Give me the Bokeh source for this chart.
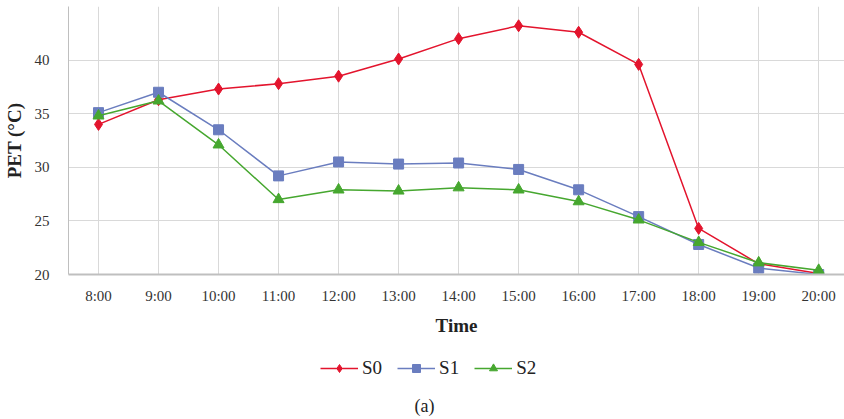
from bokeh.plotting import figure
from bokeh.layouts import column
from bokeh.models import FixedTicker, Legend, LegendItem, Label, Range1d
from bokeh.embed import file_html
from bokeh.resources import INLINE

times = ["8:00", "9:00", "10:00", "11:00", "12:00", "13:00", "14:00",
         "15:00", "16:00", "17:00", "18:00", "19:00", "20:00"]
s0 = [34.0, 36.3, 37.3, 37.8, 38.5, 40.1, 42.0, 43.2, 42.6, 39.6, 24.3, 21.0, 20.1]
s1 = [35.1, 37.0, 33.5, 29.2, 30.5, 30.3, 30.4, 29.8, 27.9, 25.4, 22.8, 20.6, 20.0]
s2 = [34.8, 36.2, 32.1, 27.0, 27.9, 27.8, 28.1, 27.9, 26.8, 25.1, 23.0, 21.1, 20.4]
series_names = ["S0", "S1", "S2"]
y_ticks = [20, 25, 30, 35, 40, 45]

idx = list(range(len(times)))
FONT = "Liberation Serif"
COLORS = ["#e3142d", "#6a7dbf", "#46a72f"]
MARKERS = [("diamond", 12), ("square", 10), ("triangle", 11)]
GRID = "#d9d9d9"

p = figure(width=844, height=340, output_backend="svg", toolbar_location=None,
           x_range=Range1d(-0.5, 12.43), y_range=Range1d(20, 45),
           min_border_left=68, min_border_right=0, min_border_top=6,
           min_border_bottom=66, outline_line_color=None,
           background_fill_color="white", border_fill_color="white")

for ys, col, (mk, sz) in zip([s0, s1, s2], COLORS, MARKERS):
    p.line(idx, ys, color=col, line_width=1.5)
    p.scatter(idx, ys, marker=mk, size=sz, color=col)

p.xaxis.ticker = FixedTicker(ticks=idx)
p.xaxis.major_label_overrides = {i: t for i, t in zip(idx, times)}
p.yaxis.ticker = FixedTicker(ticks=y_ticks)
p.yaxis.major_label_overrides = {45: ""}

for ax in (p.xaxis[0], p.yaxis[0]):
    ax.major_tick_line_color = None
    ax.minor_tick_line_color = None
    ax.major_label_text_font = FONT
    ax.major_label_text_font_size = "15px"
    ax.major_label_text_color = "#333333"
    ax.axis_label_text_font = FONT
    ax.axis_label_text_font_style = "bold"
    ax.axis_label_text_font_size = "19px"
    ax.axis_label_text_color = "#222222"
    ax.axis_line_color = "#bfbfbf"

p.xaxis.axis_label = "Time"
p.yaxis.axis_label = "PET (°C)"
p.xaxis.axis_line_width = 2
p.xaxis.major_label_standoff = 7
p.xaxis.axis_label_standoff = 8
p.yaxis.major_label_standoff = 13
p.yaxis.axis_label_standoff = 7

p.xgrid.grid_line_color = GRID
p.ygrid.grid_line_color = GRID

# lower strip holding the legend and the caption (its frame is aligned with p's)
p2 = figure(width=844, height=79, output_backend="svg", toolbar_location=None,
            x_range=Range1d(0, 1), y_range=Range1d(0, 1),
            x_axis_type=None, y_axis_type=None,
            min_border_left=0, min_border_right=0, min_border_top=0,
            min_border_bottom=0, outline_line_color=None,
            background_fill_color="white", border_fill_color="white")
p2.grid.visible = False

items = []
for name, ys, col, (mk, sz) in zip(series_names, [s0, s1, s2], COLORS, MARKERS):
    # same series, out of this strip's visible range: only their legend glyphs show
    rl = p2.line(idx, ys, color=col, line_width=1.5)
    rm = p2.scatter(idx, ys, marker=mk, size=sz - 2, color=col)
    items.append(LegendItem(label=name, renderers=[rl, rm]))

legend = Legend(items=items, orientation="horizontal", location=(252, 40),
                glyph_width=38, glyph_height=20, label_standoff=4, spacing=15,
                padding=0, margin=0, border_line_color=None,
                background_fill_alpha=0, label_text_font=FONT,
                label_text_font_size="19px", label_text_color="#222222")
p2.add_layout(legend)

cap = Label(x=356, y=14, x_units="screen", y_units="screen", text="(a)",
            text_font=FONT, text_font_size="18px", text_color="#222222",
            text_align="center", text_baseline="middle")
p2.add_layout(cap)

layout = column(p, p2, spacing=0)
open("out.html", "w").write(file_html(layout, INLINE))
